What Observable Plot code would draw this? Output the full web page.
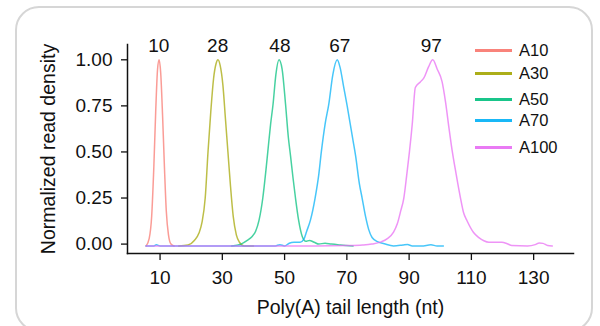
<!DOCTYPE html>
<html>
<head>
<meta charset="utf-8">
<script src="https://cdn.jsdelivr.net/npm/d3@7"></script>
<script src="https://cdn.jsdelivr.net/npm/@observablehq/plot@0.6"></script>
<style>
  html, body { margin: 0; padding: 0; background: #ffffff; }
  body { width: 600px; height: 326px; overflow: hidden; position: relative;
         font-family: "Liberation Sans", Arial, Helvetica, sans-serif; }
  #frame { position: absolute; left: 15px; top: 6px; width: 578px; height: 326px;
           border: 2px solid #d6d6d6; border-radius: 24px; box-sizing: border-box; background: #fff; }
  #chart { position: absolute; left: 0; top: 0; }
  #legend { position: absolute; left: 475px; top: 0; width: 120px; height: 170px; }
  .item { position: absolute; left: 0; height: 20px; display: flex; align-items: center; }
  .item .sw { width: 37px; height: 3px; margin-right: 7px; opacity: 0.9; }
  .item span { font-size: 16.5px; color: #111; }
  #chart svg g[aria-label="x-axis label"] text, #chart svg g[aria-label="y-axis label"] text { font-size: 19.5px; }
</style>
</head>
<body>
<div id="frame"></div>
<div id="chart"></div>
<div id="legend"></div>
<script>
// ---- data ----
const series = ["A10", "A30", "A50", "A70", "A100"];
const colors = ["#F8766D", "#A3A500", "#00BF7D", "#00B0F6", "#E76BF3"];

const a10X = [5.5, 6.5, 7.3, 8.0, 8.6, 9.2, 9.7, 10.2, 10.8, 11.4, 12.0, 12.7, 13.5, 14.5];
const a10Y = [-0.01, 0.03, 0.15, 0.42, 0.72, 0.95, 1.0, 0.93, 0.7, 0.42, 0.18, 0.05, 0.0, -0.01];

const a30X = [16, 19, 21, 22.5, 23.5, 24.5, 25.4, 26.3, 27.2, 28, 28.6, 29.3, 30.2, 31, 31.8, 32.6, 33.5, 34.5, 35.5, 37, 40];
const a30Y = [-0.01, -0.005, 0.02, 0.06, 0.12, 0.25, 0.5, 0.72, 0.9, 0.98, 1.0, 0.97, 0.86, 0.68, 0.5, 0.32, 0.15, 0.05, 0.01, -0.01, -0.01];

const a50X = [33, 36, 38, 39.5, 40.7, 41.8, 43, 44, 44.6, 45.5, 46.3, 47.2, 48.2, 49.2, 50.3, 51.2, 51.9, 52.7, 53.5, 54.5, 55.7, 56.8, 58, 59.5, 61, 63, 65, 68, 72];
const a50Y = [-0.01, 0.0, 0.02, 0.04, 0.07, 0.13, 0.25, 0.4, 0.5, 0.65, 0.76, 0.92, 1.0, 0.95, 0.76, 0.58, 0.48, 0.36, 0.25, 0.13, 0.04, 0.015, 0.02, 0.01, 0.0, 0.005, 0.0, -0.005, -0.01];

const a70X = [5.5, 8, 8.8, 10, 20, 40, 47, 48.5, 50, 51.5, 53, 55, 56.2, 57.1, 58.3, 59.8, 61, 61.8, 63, 64.2, 65.5, 66.9, 67.8, 69, 70.1, 71.2, 72, 72.8, 74, 74.9, 76, 77, 78.1, 80, 82, 85, 88, 89.5, 91, 94, 97, 99, 101];
const a70Y = [-0.01, -0.01, -0.004, -0.01, -0.01, -0.01, -0.01, -0.003, -0.01, 0.005, 0.01, 0.01, 0.027, 0.07, 0.13, 0.25, 0.38, 0.5, 0.65, 0.76, 0.92, 1.0, 0.96, 0.85, 0.75, 0.64, 0.56, 0.48, 0.33, 0.25, 0.15, 0.08, 0.036, 0.012, 0.002, -0.01, -0.005, -0.002, -0.01, -0.01, -0.004, -0.01, -0.01];

const a100X = [5.5, 20, 40, 60, 70, 75, 78, 81, 83, 85, 86.2, 87.3, 88.3, 89.2, 90.1, 91.0, 92.0, 93.6, 94.7, 96.2, 97.6, 99, 100.6, 101.7, 102.8, 103.8, 105.1, 106.5, 107.5, 108.6, 110.7, 112.4, 114, 115.6, 119.8, 121.5, 123, 128, 130.5, 131.8, 133, 134.5, 136];
const a100Y = [-0.01, -0.01, -0.01, -0.01, -0.008, -0.005, 0.0, 0.012, 0.03, 0.065, 0.11, 0.18, 0.25, 0.37, 0.5, 0.65, 0.85, 0.88, 0.9, 0.96, 1.0, 0.95, 0.88, 0.77, 0.63, 0.51, 0.38, 0.25, 0.17, 0.127, 0.063, 0.035, 0.018, 0.01, 0.01, 0.002, -0.008, -0.01, -0.003, 0.006, 0.004, -0.008, -0.01];

const peakLabels = ["10", "28", "48", "67", "97"];
const peakX = [9.6, 28.5, 48.5, 67.7, 97.1];
const peakLabelY = 1.076;

const xTicks = [10, 30, 50, 70, 90, 110, 130];
const yTicks = [0, 0.25, 0.5, 0.75, 1];

// ---- build table ----
const xs = [a10X, a30X, a50X, a70X, a100X];
const ys = [a10Y, a30Y, a50Y, a70Y, a100Y];
const rows = [];
series.forEach((s, i) => xs[i].forEach((x, j) => rows.push({series: s, x, y: ys[i][j]})));
const peaks = peakLabels.map((t, i) => ({label: t, x: peakX[i], y: peakLabelY}));

const chart = Plot.plot({
  width: 600,
  height: 326,
  marginLeft: 127,
  marginRight: 27,
  marginTop: 44,
  marginBottom: 73,
  style: {fontFamily: "'Liberation Sans', Arial, Helvetica, sans-serif", fontSize: "19px", color: "#111", background: "transparent", overflow: "visible"},
  x: {domain: [-0.46, 142.8]},
  y: {domain: [-0.051, 1.083]},
  color: {domain: series, range: colors},
  marks: [
    Plot.line(rows, {x: "x", y: "y", z: "series", stroke: "series", strokeWidth: 1.5, strokeOpacity: 0.72, curve: "monotone-x"}),
    Plot.text(peaks, {x: "x", y: "y", text: "label", fontSize: 19, fill: "#111"}),
    Plot.frame({anchor: "left", strokeWidth: 1.5, stroke: "#111"}),
    Plot.frame({anchor: "bottom", strokeWidth: 1.5, stroke: "#111"}),
    Plot.axisX({ticks: xTicks, tickSize: 7, tickPadding: 10, strokeWidth: 1.3, label: "Poly(A) tail length (nt)", labelAnchor: "center", labelArrow: "none", labelOffset: 60, tickFormat: d => String(d)}),
    Plot.axisY({ticks: yTicks, tickSize: 6, tickPadding: 9, strokeWidth: 1.3, label: "Normalized read density", labelAnchor: "center", labelArrow: "none", labelOffset: 86, tickFormat: d => d.toFixed(2)})
  ]
});
document.getElementById("chart").appendChild(chart);

// ---- legend (line keys, as in the reference) ----
const legendTop = [40, 63, 89, 110, 137];
const legend = document.getElementById("legend");
series.forEach((s, i) => {
  const it = document.createElement("div");
  it.className = "item";
  it.style.top = legendTop[i] + "px";
  const sw = document.createElement("div");
  sw.className = "sw";
  sw.style.background = colors[i];
  const lb = document.createElement("span");
  lb.textContent = s;
  it.appendChild(sw);
  it.appendChild(lb);
  legend.appendChild(it);
});
</script>
</body>
</html>
